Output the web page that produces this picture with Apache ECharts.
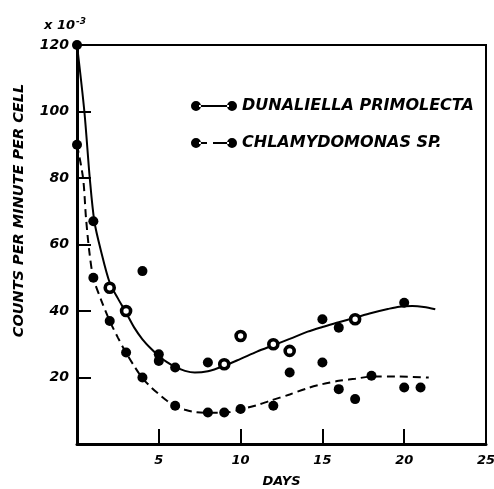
<!DOCTYPE html>
<html>
<head>
<meta charset="utf-8">
<script src="https://cdn.jsdelivr.net/npm/echarts@6/dist/echarts.min.js"></script>
<style>html,body{margin:0;padding:0;background:#fff}#c{width:494px;height:489px}</style>
</head>
<body>
<div id="c"></div>
<script>
// ---- data ----
var seriesNames = ['DUNALIELLA PRIMOLECTA', 'CHLAMYDOMONAS SP.'];
var xTickLabels = ['', '5', '10', '15', '20', '25'];
var yTickLabels = ['', '20', '40', '60', '80', '100', '120'];

// Dunaliella primolecta observed points (filled)
var dunaliellaFilled = [[0,120],[1,67],[4,52],[5,27],[5,25],[6,23],[8,24.5],[15,37.5],[16,35],[20,42.5]];
// Dunaliella primolecta observed points (open)
var dunaliellaOpen = [[2,47],[3,40],[9,24],[10,32.5],[12,30],[13,28],[17,37.5]];
// Dunaliella fitted curve
var dunaliellaCurve = [[0,120],[0.45,100],[0.78,80],[1.06,67],[1.47,58],[2,48.5],[2.5,43.8],[3,39.5],[3.5,35],[4,31.5],[4.5,28.8],[5,26.5],[5.5,24.6],[6,23.2],[6.6,22],[7.2,21.5],[8,21.9],[8.9,23.3],[10,25.6],[11,27.8],[12,29.7],[13,31.6],[14.1,33.8],[15,35.2],[16,36.6],[17,38],[18,39.4],[19,40.6],[19.7,41.3],[20.5,41.5],[21.2,41.2],[21.9,40.5]];

// Chlamydomonas sp. observed points
var chlamyPoints = [[0,90],[1,50],[2,37],[3,27.5],[4,20],[6,11.5],[8,9.5],[9,9.5],[10,10.5],[12,11.5],[13,21.5],[15,24.5],[16,16.5],[17,13.5],[18,20.5],[20,17],[21,17]];
// Chlamydomonas fitted curve
var chlamyCurve = [[0,90],[0.37,80],[0.55,68],[0.75,58],[1,50],[1.5,43],[2,37],[2.5,32],[3,27.4],[3.5,23.4],[4,19.8],[4.5,17.2],[5,15],[5.5,13],[6,11.4],[6.6,10.3],[7.2,9.6],[8,9.4],[9,9.4],[10,10.4],[11,11.7],[11.8,13],[13,14.9],[14.1,16.8],[15,18],[16,19],[17,19.6],[18,20.3],[19.5,20.3],[21.5,20]];

// ---- chart ----
var FONT = 'DejaVu Sans';
var solidIcon = 'path://M0,5A5,5,0,1,0,10,5A5,5,0,1,0,0,5Z M8,4H38V6H8Z M36,5A5,5,0,1,0,46,5A5,5,0,1,0,36,5Z';
var dashedIcon = 'path://M0,5A5,5,0,1,0,10,5A5,5,0,1,0,0,5Z M8,4H16V6H8Z M22,4H38V6H22Z M36,5A5,5,0,1,0,46,5A5,5,0,1,0,36,5Z';

var chart = echarts.init(document.getElementById('c'), null, {renderer: 'canvas'});
chart.setOption({
  backgroundColor: '#fff',
  animation: false,
  title: {
    text: 'x 10{sup|-3}',
    left: 39, top: 12,
    textStyle: {
      fontFamily: FONT, fontSize: 13, fontWeight: 'bold', fontStyle: 'italic', color: '#000',
      rich: { sup: { fontFamily: FONT, fontSize: 9, fontWeight: 'bold', fontStyle: 'italic', color: '#000', verticalAlign: 'top', padding: [0,0,8,1] } }
    }
  },
  legend: {
    orient: 'vertical',
    left: 186, top: 93,
    itemWidth: 46, itemHeight: 10, itemGap: 21,
    textStyle: { fontFamily: FONT, fontSize: 16, fontWeight: 'bold', fontStyle: 'italic', color: '#000', padding: [0,0,0,0] },
    itemStyle: { color: '#000', borderWidth: 0 },
    data: [
      { name: seriesNames[0], icon: solidIcon },
      { name: seriesNames[1], icon: dashedIcon }
    ]
  },
  grid: { left: 77, right: 8, top: 45, bottom: 45, containLabel: false, outerBoundsMode: 'none', show: true, borderColor: '#000', borderWidth: 2 },
  xAxis: {
    type: 'value', min: 0, max: 25, interval: 5,
    name: 'DAYS', nameLocation: 'middle', nameGap: 31,
    nameTextStyle: { fontFamily: FONT, fontSize: 13, fontWeight: 'bold', fontStyle: 'italic', color: '#000' },
    axisLine: { show: true, lineStyle: { color: '#000', width: 3 } },
    axisTick: { show: true, inside: true, length: 15, lineStyle: { color: '#000', width: 2 } },
    splitLine: { show: false },
    axisLabel: {
      margin: 10, fontFamily: FONT, fontSize: 13, fontWeight: 'bold', fontStyle: 'italic', color: '#000',
      formatter: function (v) { return xTickLabels[Math.round(v / 5)]; }
    }
  },
  yAxis: {
    type: 'value', min: 0, max: 120, interval: 20,
    name: 'COUNTS PER MINUTE PER CELL', nameLocation: 'middle', nameGap: 50,
    nameTextStyle: { fontFamily: FONT, fontSize: 14.5, fontWeight: 'bold', fontStyle: 'italic', color: '#000', padding: [0,0,0,68] },
    axisLine: { show: true, lineStyle: { color: '#000', width: 3 } },
    axisTick: { show: true, inside: true, length: 14, lineStyle: { color: '#000', width: 2 } },
    splitLine: { show: false },
    axisLabel: {
      margin: 8, fontFamily: FONT, fontSize: 14, fontWeight: 'bold', fontStyle: 'italic', color: '#000',
      formatter: function (v) { return yTickLabels[Math.round(v / 20)]; }
    }
  },
  series: [
    { name: seriesNames[0], type: 'line', data: dunaliellaCurve, smooth: 0.3, showSymbol: false, symbol: 'none',
      lineStyle: { color: '#000', width: 2 }, itemStyle: { color: '#000' }, z: 2 },
    { name: seriesNames[1], type: 'line', data: chlamyCurve, smooth: 0.3, showSymbol: false, symbol: 'none',
      lineStyle: { color: '#000', width: 2, type: [8, 5] }, itemStyle: { color: '#000' }, z: 2 },
    { name: 'dunaliella-points', type: 'scatter', data: dunaliellaFilled, symbol: 'circle', symbolSize: 10,
      itemStyle: { color: '#000', opacity: 1 }, z: 3 },
    { name: 'dunaliella-open', type: 'scatter', data: dunaliellaOpen, symbol: 'circle', symbolSize: 9,
      itemStyle: { color: '#fff', borderColor: '#000', borderWidth: 3.6, opacity: 1 }, z: 3 },
    { name: 'chlamy-points', type: 'scatter', data: chlamyPoints, symbol: 'circle', symbolSize: 10,
      itemStyle: { color: '#000', opacity: 1 }, z: 3 }
  ]
});
</script>
</body>
</html>
